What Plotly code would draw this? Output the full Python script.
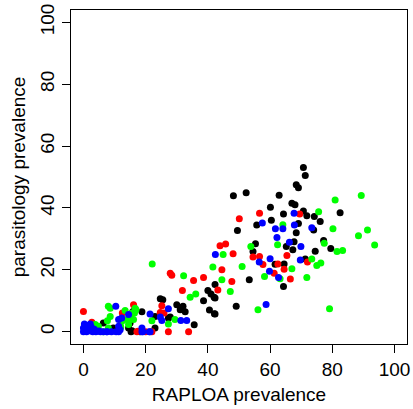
import plotly.graph_objects as go

# RAPLOA prevalence (x) and parasitology prevalence (y) by group colour
black_x = [70.7, 71.3, 68.4, 69.1, 67.0, 68.0, 82.5, 70.7, 71.8, 74.2, 76.1, 69.1, 74.0, 68.4, 77.2, 67.7, 79.5, 67.3, 74.5, 71.3,
           48.2, 52.3, 62.9, 60.1, 64.3, 60.4, 55.7, 49.5, 65.2, 55.3, 54.5, 61.6, 64.5, 53.3, 64.3, 49.1,
           42.3, 42.3, 42.3, 40.0, 41.0, 42.0, 38.6, 40.5, 42.1, 30.0, 32.0, 31.1, 32.7, 27.9, 35.6,
           24.7, 25.5, 18.8, 23.0, 27.3, 6.4, 9.6, 15.0, 15.9, 14.5, 15.6, 23.0, 18.2, 15.3]
black_y = [53.1, 50.5, 47.5, 46.5, 41.5, 41.0, 38.4, 39.0, 37.5, 37.2, 35.6, 35.0, 32.9, 32.0, 29.5, 29.1, 26.9, 26.5, 26.0, 23.5,
           43.9, 44.9, 44.1, 40.2, 38.0, 36.0, 34.5, 32.7, 27.5, 28.4, 25.9, 21.8, 21.9, 16.8, 14.6, 8.2,
           15.2, 10.9, 5.7, 13.3, 12.2, 11.1, 10.0, 7.0, 5.8, 8.7, 8.2, 7.1, 6.4, 4.7, 2.2,
           10.6, 10.3, 6.4, 4.9, 4.4, 2.8, 1.2, 2.8, 6.5, 1.2, 0.3, 1.2, 0.0, 0.0]

red_x = [69.5, 72.0, 66.5, 56.6, 50.1, 43.9, 45.7, 48.1, 54.5, 56.6, 65.4, 57.7, 62.5, 64.5, 61.3, 47.7, 44.5, 43.2,
         27.9, 28.4, 35.4, 38.6, 31.8, 33.8, 25.2, 24.7, 25.9, 27.3, 0.0, 2.7, 12.5, 16.1, 17.5, 20.0, 22.0, 17.2]
red_y = [38.0, 22.5, 17.0, 38.3, 36.5, 27.8, 28.3, 25.2, 24.1, 24.3, 24.6, 21.7, 21.9, 20.2, 18.9, 16.2, 20.0, 13.5,
         18.9, 18.2, 16.5, 17.5, 13.3, 0.0, 8.4, 6.2, 6.0, 0.0, 6.5, 3.0, 6.0, 8.7, 0.1, 0.0, 0.0, 0.0]

green_x = [89.3, 80.9, 75.6, 80.2, 91.3, 88.4, 93.6, 77.4, 81.5, 83.3, 73.4, 75.0, 76.3, 67.0, 79.1, 71.8,
           64.1, 62.4, 53.8, 44.9, 51.0, 63.2, 58.2, 47.2, 56.1, 44.5, 41.6, 32.2, 36.1, 34.3, 29.4, 22.0, 27.3, 22.1,
           3.8, 4.8, 7.7, 8.0, 8.0, 8.6, 13.4, 14.0, 15.0, 16.6, 16.4, 15.6, 16.9, 8.6, 12.3, 14.5, 16.1, 14.5, 6.4, 12.0]
green_y = [44.0, 42.6, 38.8, 33.3, 32.9, 31.0, 28.0, 28.6, 25.9, 26.2, 23.5, 21.4, 22.2, 20.3, 7.4, 17.5,
           34.6, 28.1, 27.5, 24.9, 21.1, 17.1, 17.8, 13.0, 7.1, 16.8, 20.9, 18.1, 12.2, 11.1, 3.9, 3.5, 2.5, 21.9,
           2.3, 1.7, 3.5, 1.2, 8.2, 7.6, 6.8, 3.9, 4.9, 7.6, 6.0, 6.0, 7.1, 4.9, 3.3, 3.5, 3.9, 2.3, 0.0, 1.5]

blue_x = [67.7, 67.8, 73.4, 69.9, 69.7, 57.5, 61.7, 64.1, 62.2, 66.2, 42.4, 60.0, 56.5, 59.8, 62.7, 58.7,
          31.3, 33.2, 27.3, 21.4, 24.7, 25.2, 19.1, 21.2, 18.8, 21.4, 10.4, 11.3, 12.3, 11.3, 11.8, 14.5, 18.8,
          2.2, 6.4, 7.5, 11.3, 7.6, 9.0, 10.5,
          0.0, 0.5, 1.0, 1.5, 2.0, 2.5, 3.0, 3.5, 4.0, 5.0, 0.0, 1.0, 5.5, 0.3]
blue_y = [38.3, 34.5, 33.6, 27.5, 23.2, 35.1, 33.3, 33.3, 30.4, 28.9, 24.9, 23.6, 22.5, 19.5, 17.5, 8.8,
          3.6, 3.6, 7.4, 5.7, 4.7, 3.6, 0.0, 0.0, 0.0, 0.0, 8.2, 3.9, 4.4, 1.7, 0.6, 5.5, 1.2,
          2.5, 0.0, 0.0, 0.0, 0.0, 0.0, 0.0,
          0.0, 0.5, 0.0, 1.0, 0.3, 1.5, 0.0, 0.8, 0.0, 0.2, 1.2, 2.0, 0.0, 2.5]

tick_vals = [0, 20, 40, 60, 80, 100]

fig = go.Figure()
for xs, ys, col in [(black_x, black_y, "#000000"), (red_x, red_y, "#FF0000"),
                    (green_x, green_y, "#00FF00"), (blue_x, blue_y, "#0000FF")]:
    fig.add_trace(go.Scatter(x=xs, y=ys, mode="markers",
                             marker=dict(color=col, size=7, line=dict(width=0)),
                             showlegend=False))

font = dict(family="Liberation Sans, Arial, sans-serif", size=19, color="black")
axis_common = dict(range=[-4, 104], tickvals=tick_vals, ticks="outside", ticklen=8,
                   tickcolor="black", tickwidth=1, showline=True, linecolor="black",
                   linewidth=1, mirror=True, showgrid=False, zeroline=False,
                   tickfont=font, automargin=False)
fig.update_xaxes(**axis_common, title=dict(text="RAPLOA prevalence", font=font, standoff=8))
fig.update_yaxes(**axis_common, tickangle=-90,
                 title=dict(text="parasitology prevalence", font=font, standoff=6))
fig.update_layout(width=413, height=409, margin=dict(l=71, r=6, t=10, b=65),
                  paper_bgcolor="white", plot_bgcolor="white", font=font)
fig.write_html("out.html")
